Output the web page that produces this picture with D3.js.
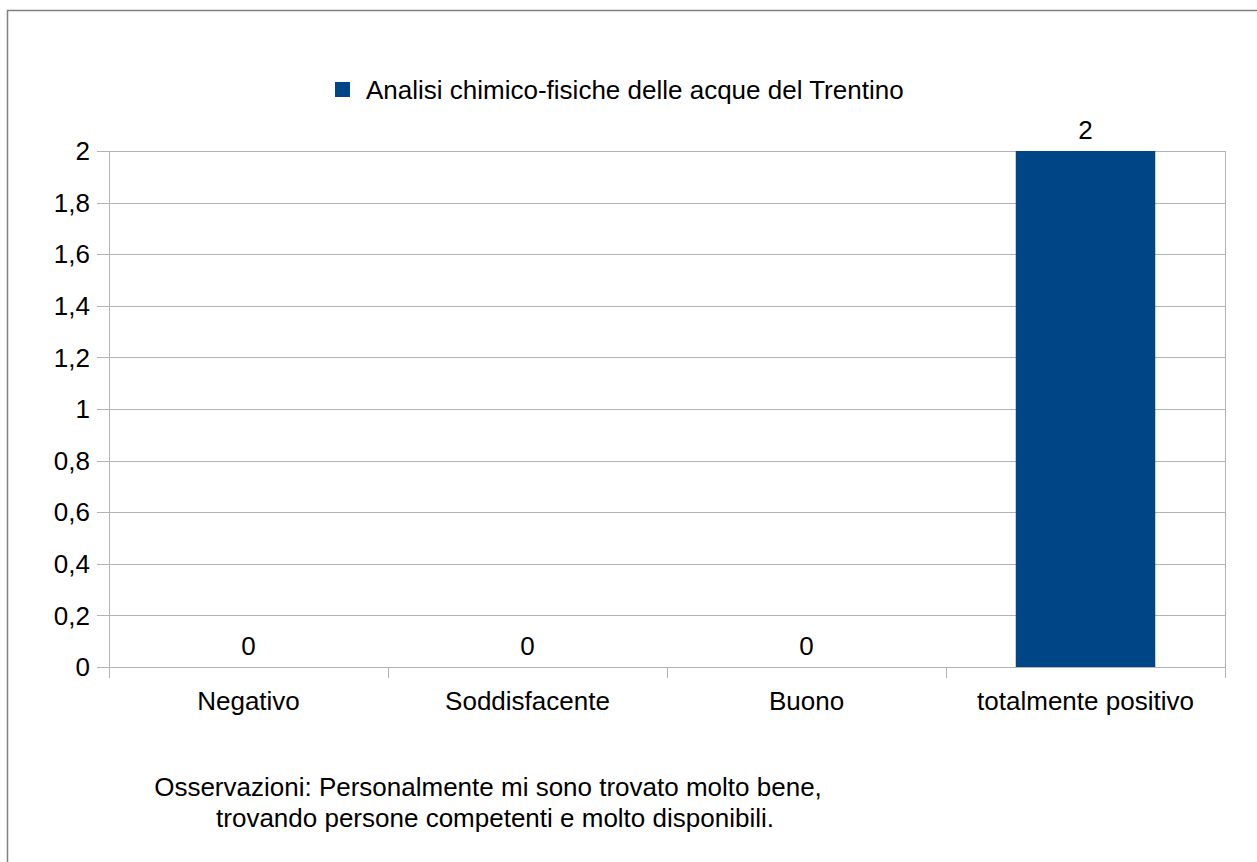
<!DOCTYPE html>
<html>
<head>
<meta charset="utf-8">
<script src="https://cdn.jsdelivr.net/npm/d3@7"></script>
<style>
  body { margin: 0; background: #fff; }
  svg text { font-family: "Liberation Sans", Arial, sans-serif; fill: #000; }
</style>
</head>
<body>
<div id="chart"></div>
<script>
// Bar chart: Analisi chimico-fisiche delle acque del Trentino
const categories = ["Negativo", "Soddisfacente", "Buono", "totalmente positivo"];
const values = [0, 0, 0, 2];
const yTicks = [0, 0.2, 0.4, 0.6, 0.8, 1, 1.2, 1.4, 1.6, 1.8, 2];
const seriesName = "Analisi chimico-fisiche delle acque del Trentino";
const noteLines = [
    "Osservazioni: Personalmente mi sono trovato molto bene,",
    "trovando persone competenti e molto disponibili."
];

const width = 1257, height = 862;
const plot = { left: 109, right: 1225, top: 151, bottom: 667 };
const gridColor = "#b3b3b3";
const barColor = "#004586";
const fs = 26;

const svg = d3.select("#chart").append("svg")
    .attr("width", width)
    .attr("height", height);

// outer frame of the chart object
svg.append("rect")
    .attr("x", 7.5).attr("y", 10.5)
    .attr("width", width + 10).attr("height", height + 10)
    .attr("fill", "none")
    .attr("stroke", "#808080")
    .attr("stroke-width", 1.5);

const x = d3.scaleBand()
    .domain(categories)
    .range([plot.left, plot.right])
    .paddingInner(0)
    .paddingOuter(0);

const y = d3.scaleLinear()
    .domain([0, 2])
    .range([plot.bottom, plot.top]);

const fmt = v => String(+v.toFixed(1)).replace(".", ",");

// horizontal grid lines + tick marks
const grid = svg.append("g");
grid.selectAll("line")
    .data(yTicks)
    .enter().append("line")
    .attr("x1", plot.left - 12)
    .attr("x2", plot.right)
    .attr("y1", d => Math.round(y(d)) + 0.5)
    .attr("y2", d => Math.round(y(d)) + 0.5)
    .attr("stroke", gridColor)
    .attr("stroke-width", 1);

// y labels
svg.append("g").selectAll("text")
    .data(yTicks)
    .enter().append("text")
    .attr("x", plot.left - 19)
    .attr("y", d => y(d))
    .attr("dy", "0.35em")
    .attr("text-anchor", "end")
    .attr("font-size", fs)
    .text(fmt);

// vertical separators between categories (ticks below the axis)
const bounds = categories.map(c => x(c)).concat([plot.right]);
svg.append("g").selectAll("line")
    .data(bounds)
    .enter().append("line")
    .attr("x1", d => Math.round(d) + 0.5)
    .attr("x2", d => Math.round(d) + 0.5)
    .attr("y1", (d, i) => (i === 0 || i === bounds.length - 1) ? plot.top : plot.bottom)
    .attr("y2", plot.bottom + 11)
    .attr("stroke", gridColor)
    .attr("stroke-width", 1);

// bars
const barW = x.bandwidth() * 0.5;
svg.append("g").selectAll("rect")
    .data(values)
    .enter().append("rect")
    .attr("x", (d, i) => x(categories[i]) + (x.bandwidth() - barW) / 2)
    .attr("y", d => y(d))
    .attr("width", barW)
    .attr("height", d => plot.bottom - y(d))
    .attr("fill", barColor);

// value labels
svg.append("g").selectAll("text")
    .data(values)
    .enter().append("text")
    .attr("x", (d, i) => x(categories[i]) + x.bandwidth() / 2)
    .attr("y", d => y(d) - 12)
    .attr("text-anchor", "middle")
    .attr("font-size", fs)
    .text(d => d);

// category labels
svg.append("g").selectAll("text")
    .data(categories)
    .enter().append("text")
    .attr("x", d => x(d) + x.bandwidth() / 2)
    .attr("y", 710)
    .attr("text-anchor", "middle")
    .attr("font-size", fs)
    .text(d => d);

// legend
const legend = svg.append("g").attr("transform", "translate(335,82)");
legend.append("rect")
    .attr("width", 15).attr("height", 15)
    .attr("fill", barColor);
legend.append("text")
    .attr("x", 31).attr("y", 8)
    .attr("dy", "0.35em")
    .attr("font-size", fs)
    .text(seriesName);

// observation note (second line sits a bit to the right in the original)
svg.append("g").selectAll("text")
    .data(noteLines)
    .enter().append("text")
    .attr("x", (d, i) => i === 0 ? 488 : 495)
    .attr("y", (d, i) => 796 + i * 31)
    .attr("text-anchor", "middle")
    .attr("font-size", fs)
    .text(d => d);
</script>
</body>
</html>
